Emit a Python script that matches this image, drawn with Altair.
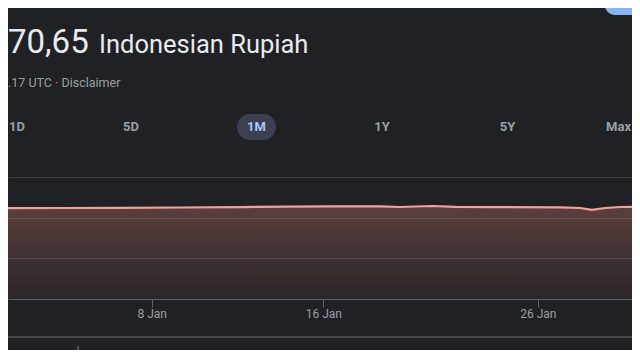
import altair as alt
import pandas as pd

# ---- data ----
times = [
    "2023-12-31T11:00:00", "2024-01-03T17:30:00", "2024-01-06T12:30:00",
    "2024-01-09T07:40:00", "2024-01-12T03:00:00", "2024-01-14T05:00:00",
    "2024-01-16T07:30:00", "2024-01-18T15:30:00", "2024-01-19T14:00:00",
    "2024-01-20T06:40:00", "2024-01-21T03:00:00", "2024-01-22T03:30:00",
    "2024-01-24T05:50:00", "2024-01-27T01:00:00", "2024-01-27T23:20:00",
    "2024-01-28T12:40:00", "2024-01-29T03:20:00", "2024-01-29T20:10:00",
    "2024-01-31T00:00:00",
]
rates = [15425, 15440, 15455, 15525, 15595, 15680, 15730, 15730, 15610,
         15695, 15780, 15645, 15575, 15560, 15440, 15135, 15440, 15610, 15670]
tick_days = [8, 16, 26]
grid_values = [6900, 13800, 20700]
ranges = ["1D", "5D", "1M", "1Y", "5Y", "Max"]
selected_range = "1M"
price_text = "70,65"
currency_text = "Indonesian Rupiah"
sub_text = ".17 UTC · Disclaimer"

df = pd.DataFrame({"t": times, "v": rates})
one = pd.DataFrame({"k": [0]})

BG = "#202124"
LINE = "#f3a19b"
GRID = "#3c4043"
FONT = "Roboto"

x_enc = alt.X(
    "t:T",
    scale=alt.Scale(domain=[alt.DateTime(year=2024, month=1, date=1, hours=7, minutes=12),
                            alt.DateTime(year=2024, month=1, date=30, hours=9, minutes=22)]),
    axis=alt.Axis(
        values=[alt.DateTime(year=2024, month=1, date=d) for d in tick_days],
        format="%-d %b", title=None, grid=False,
        domainColor="#5f6368", tickColor="#5f6368", tickSize=8,
        labelColor="#9aa0a6", labelFont=FONT, labelFontSize=12,
        labelPadding=1, labelBaseline="top",
    ),
)
y_enc = alt.Y(
    "v:Q",
    scale=alt.Scale(domain=[0, 20700], nice=False, zero=True),
    axis=alt.Axis(values=grid_values, grid=True, gridColor=GRID, gridWidth=1,
                  labels=False, ticks=False, domain=False, title=None),
)

area = alt.Chart(df).mark_area(
    clip=True,
    color=alt.Gradient(
        gradient="linear",
        stops=[alt.GradientStop(color="rgba(242,139,130,0.28)", offset=0),
               alt.GradientStop(color="rgba(242,139,130,0.05)", offset=1)],
        x1=1, x2=1, y1=0, y2=1,
    ),
).encode(x=x_enc, y=y_enc)

line = alt.Chart(df).mark_line(clip=True, color=LINE, strokeWidth=2.2).encode(
    x="t:T", y="v:Q")


def txt(text, x, y, size, color, align="left", weight="normal", baseline="alphabetic"):
    return alt.Chart(one).mark_text(
        text=text, align=align, baseline=baseline, fontSize=size, color=color,
        font=FONT, fontWeight=weight,
    ).encode(x=alt.value(x), y=alt.value(y))


def box(x, x2, y, y2, color, radius=0):
    return alt.Chart(one).mark_rect(color=color, cornerRadius=radius).encode(
        x=alt.value(x), x2=alt.value(x2), y=alt.value(y), y2=alt.value(y2))


def rule(x, x2, y, y2, color, width=1):
    return alt.Chart(one).mark_rule(color=color, strokeWidth=width).encode(
        x=alt.value(x), x2=alt.value(x2), y=alt.value(y), y2=alt.value(y2))


layers = [area, line]

# header
layers.append(box(597, 660, -200, -162, "#8ab4f8", 10))
layers.append(txt(price_text, 0, -124, 33, "#e8eaed"))
layers.append(txt(currency_text, 91, -124, 25.5, "#e8eaed"))
layers.append(txt(sub_text, 0, -90, 12.5, "#9aa0a6"))

# range selector
btn_x0, btn_step = -2.5, 125.5
last = len(ranges) - 1
for i, r in enumerate(ranges):
    cx = btn_x0 + i * btn_step
    align = "center"
    if i == 0:
        cx, align = 1, "left"
    elif i == last:
        cx, align = 623, "right"
    if r == selected_range:
        layers.append(box(cx - 19.5, cx + 19.5, -63, -37, "#3b4150", 13))
        layers.append(txt(r, cx, -50, 13, "#a8c7fa", align=align, weight="bold", baseline="middle"))
    else:
        layers.append(txt(r, cx, -50, 13, "#9aa0a6", align=align, weight="bold", baseline="middle"))

# bottom separator and stub
layers.append(rule(0, 624, 160, 160, "#444548", 2))
layers.append(rule(70, 70, 169, 175, "#5f6368", 1.5))

chart = alt.layer(*layers).properties(
    width=624, height=122,
    autosize=alt.AutoSizeParams(type="none"),
    padding={"left": 0, "right": 0, "top": 169, "bottom": 51},
    background=BG,
).configure_view(stroke=None)

chart.save("out.html", embed_options={"renderer": "svg", "actions": False})
